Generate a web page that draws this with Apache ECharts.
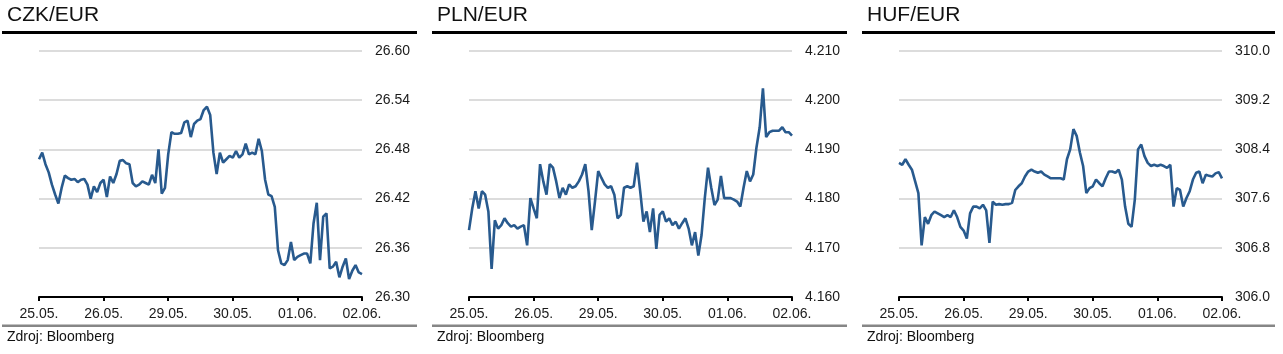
<!DOCTYPE html>
<html>
<head>
<meta charset="utf-8">
<script src="https://cdn.jsdelivr.net/npm/echarts@6/dist/echarts.min.js"></script>
<style>
html, body {margin: 0; padding: 0; background: #fff;}
#main {width: 1283px; height: 354px;}
</style>
</head>
<body>
<div id="main"></div>
<script>
// data, one value per step (100 steps between 25.05. and 02.06.)
var dateLabels = ['25.05.', '26.05.', '29.05.', '30.05.', '01.06.', '02.06.'];
var titles = ['CZK/EUR', 'PLN/EUR', 'HUF/EUR'];
var sourceText = 'Zdroj: Bloomberg';

var czk = [26.468, 26.476, 26.462, 26.452, 26.437, 26.425, 26.414, 26.433, 26.448, 26.445,
  26.443, 26.444, 26.440, 26.443, 26.444, 26.437, 26.420, 26.435, 26.428, 26.439,
  26.443, 26.422, 26.447, 26.439, 26.450, 26.466, 26.467, 26.463, 26.462, 26.439,
  26.435, 26.437, 26.441, 26.439, 26.437, 26.449, 26.439, 26.480, 26.426, 26.433,
  26.474, 26.501, 26.499, 26.499, 26.500, 26.513, 26.515, 26.495, 26.511, 26.515,
  26.517, 26.528, 26.532, 26.522, 26.476, 26.450, 26.476, 26.464, 26.468, 26.472,
  26.470, 26.478, 26.470, 26.474, 26.487, 26.474, 26.476, 26.474, 26.493, 26.478,
  26.443, 26.425, 26.423, 26.410, 26.357, 26.341, 26.339, 26.345, 26.367, 26.345,
  26.349, 26.351, 26.353, 26.353, 26.341, 26.390, 26.415, 26.345, 26.398, 26.402,
  26.335, 26.337, 26.343, 26.324, 26.337, 26.347, 26.322, 26.332, 26.339, 26.330, 26.328];

var pln = [4.1736, 4.1780, 4.1815, 4.1780, 4.1815, 4.1808, 4.1774, 4.1657, 4.1756, 4.1739,
  4.1746, 4.1760, 4.1750, 4.1743, 4.1746, 4.1739, 4.1743, 4.1746, 4.1705, 4.1801,
  4.1780, 4.1760, 4.1870, 4.1835, 4.1808, 4.1870, 4.1863, 4.1835, 4.1801, 4.1822,
  4.1808, 4.1829, 4.1822, 4.1825, 4.1835, 4.1849, 4.1870, 4.1815, 4.1736, 4.1794,
  4.1856, 4.1842, 4.1829, 4.1822, 4.1825, 4.1808, 4.1760, 4.1767, 4.1822, 4.1825,
  4.1822, 4.1825, 4.1873, 4.1815, 4.1753, 4.1774, 4.1732, 4.1780, 4.1698, 4.1767,
  4.1774, 4.1753, 4.1760, 4.1746, 4.1753, 4.1739, 4.1750, 4.1760, 4.1739, 4.1705,
  4.1732, 4.1684, 4.1726, 4.1801, 4.1863, 4.1822, 4.1787, 4.1798, 4.1846, 4.1801,
  4.1801, 4.1801, 4.1798, 4.1794, 4.1784, 4.1822, 4.1856, 4.1835, 4.1849, 4.1904,
  4.1945, 4.2024, 4.1925, 4.1935, 4.1938, 4.1938, 4.1938, 4.1945, 4.1935, 4.1935, 4.1928];

var huf = [308.18, 308.15, 308.24, 308.15, 308.07, 307.88, 307.69, 306.84, 307.30, 307.19,
  307.33, 307.39, 307.36, 307.33, 307.30, 307.33, 307.30, 307.41, 307.30, 307.14,
  307.08, 306.95, 307.36, 307.47, 307.47, 307.44, 307.50, 307.41, 306.88, 307.55,
  307.50, 307.51, 307.50, 307.51, 307.51, 307.53, 307.74, 307.80, 307.85, 307.96,
  308.04, 308.07, 308.04, 308.02, 308.04, 307.99, 307.96, 307.93, 307.93, 307.93,
  307.93, 307.91, 308.24, 308.40, 308.73, 308.62, 308.35, 308.13, 307.69, 307.77,
  307.80, 307.91, 307.85, 307.80, 307.93, 308.04, 308.04, 308.02, 308.07, 307.91,
  307.47, 307.19, 307.14, 307.58, 308.40, 308.48, 308.29, 308.18, 308.13, 308.15,
  308.13, 308.15, 308.13, 308.10, 308.15, 307.47, 307.77, 307.74, 307.47, 307.61,
  307.72, 307.91, 308.02, 308.04, 307.85, 307.99, 307.97, 307.96, 308.01, 308.03, 307.93];

var czkTicks = [26.30, 26.36, 26.42, 26.48, 26.54, 26.60];
var plnTicks = [4.16, 4.17, 4.18, 4.19, 4.20, 4.21];
var hufTicks = [306.0, 306.8, 307.6, 308.4, 309.2, 310.0];

var myChart = echarts.init(document.getElementById('main'), null, {renderer: 'canvas'});

var panels = [
  {ox: 0, data: czk, ticks: czkTicks, dec: 2, ruleW: 415},
  {ox: 430, data: pln, ticks: plnTicks, dec: 3, ruleW: 415},
  {ox: 860, data: huf, ticks: hufTicks, dec: 1, ruleW: 413}
];

var font = '"Liberation Sans", Arial, sans-serif';
var grids = [], xAxes = [], yAxes = [], series = [], graphics = [];

panels.forEach(function (p, k) {
  grids.push({left: 39 + p.ox, top: 51, width: 323, height: 246});

  xAxes.push({
    type: 'value', gridIndex: k, min: 0, max: p.data.length - 1, interval: 20,
    axisLine: {show: true, lineStyle: {color: '#000', width: 2}},
    axisTick: {show: true, length: 4, lineStyle: {color: '#000', width: 2}},
    splitLine: {show: false},
    axisLabel: {
      fontFamily: font, fontSize: 14, color: '#1a1a1a', margin: 10,
      formatter: function (v) { return dateLabels[Math.round(v / 20)]; }
    }
  });

  yAxes.push({
    type: 'value', gridIndex: k, position: 'right',
    min: p.ticks[0], max: p.ticks[p.ticks.length - 1],
    axisLine: {show: false},
    axisTick: {show: false, customValues: p.ticks},
    splitLine: {show: true, lineStyle: {color: '#dcdcdc', width: 2}},
    axisLabel: {
      customValues: p.ticks,
      fontFamily: font, fontSize: 14, color: '#1a1a1a', margin: 13, align: 'left',
      formatter: function (v) { return v.toFixed(p.dec); }
    }
  });

  series.push({
    type: 'line', xAxisIndex: k, yAxisIndex: k,
    showSymbol: false, silent: true,
    lineStyle: {color: '#285a8e', width: 2.6},
    data: p.data.map(function (v, i) { return [i, v]; })
  });

  // titulek, cary a zdroj
  graphics.push({type: 'text', left: p.ox + 7, top: 5,
    style: {text: titles[k], font: '21px ' + font, fill: '#111'}});
  graphics.push({type: 'rect', shape: {x: p.ox + 2, y: 31, width: p.ruleW, height: 3},
    style: {fill: '#000'}});
  graphics.push({type: 'rect', shape: {x: p.ox + 2, y: 324.5, width: p.ruleW, height: 2.5},
    style: {fill: '#868686'}});
  graphics.push({type: 'text', left: p.ox + 7, top: 330,
    style: {text: sourceText, font: '14px ' + font, fill: '#111'}});
});

var option = {
  animation: false,
  backgroundColor: '#fff',
  grid: grids,
  xAxis: xAxes,
  yAxis: yAxes,
  series: series,
  graphic: graphics
};
myChart.setOption(option);
</script>
</body>
</html>
